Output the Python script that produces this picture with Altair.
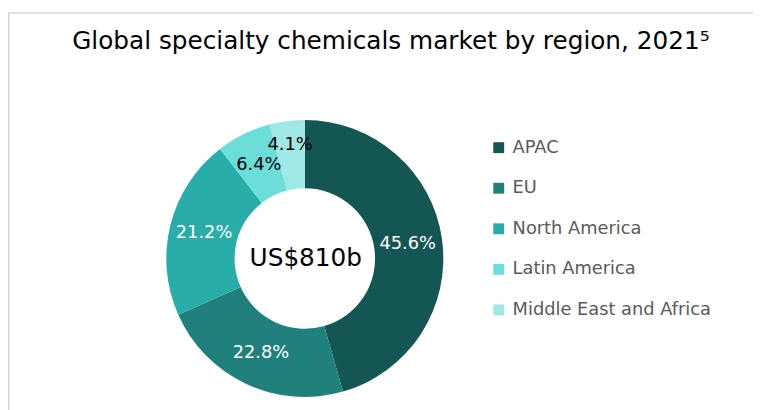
import altair as alt
import pandas as pd

regions = ["APAC", "EU", "North America", "Latin America", "Middle East and Africa"]
shares = [45.6, 22.8, 21.2, 6.4, 4.1]
colors = ["#145654", "#1f807c", "#28ada8", "#6cdeda", "#a0e8e6"]
title_text = "Global specialty chemicals market by region, 2021⁵"
center_text = "US$810b"

df = pd.DataFrame({"region": regions, "share": shares, "order": list(range(len(regions)))})
df["label"] = df["share"].map(lambda v: f"{v:.1f}%")

CX, CY = 300, 251
FONT = "DejaVu Sans"

base = alt.Chart(df).encode(
    theta=alt.Theta("share:Q", stack=True),
    order=alt.Order("order:Q"),
)

arcs = base.mark_arc(outerRadius=140, innerRadius=71, stroke=None).encode(
    x=alt.value(CX),
    y=alt.value(CY),
    color=alt.Color(
        "region:N",
        sort=regions,
        scale=alt.Scale(domain=regions, range=colors),
        legend=alt.Legend(
            title=None,
            orient="none",
            legendX=487,
            legendY=130,
            symbolType="square",
            symbolSize=121,
            symbolStrokeWidth=0,
            labelFontSize=18,
            labelFont=FONT,
            labelColor="#5a5a5a",
            labelOffset=5,
            rowPadding=23,
            labelLimit=400,
        ),
    ),
)

color_rule = alt.condition("datum.share > 10", alt.value("white"), alt.value("black"))

labels_main = base.mark_text(radius=105, fontSize=18, font=FONT, align="center", baseline="middle").transform_calculate(
    lbl="datum.share >= 5 ? datum.label : ''"
).encode(
    x=alt.value(CX),
    y=alt.value(CY),
    text="lbl:N",
    color=color_rule,
)

labels_small = base.mark_text(radius=116, fontSize=18, font=FONT, align="center", baseline="middle").transform_calculate(
    lbl="datum.share < 5 ? datum.label : ''"
).encode(
    x=alt.value(CX),
    y=alt.value(CY),
    text="lbl:N",
    color=color_rule,
)

center = alt.Chart(pd.DataFrame({"t": [center_text]})).mark_text(
    fontSize=25, font=FONT, color="black"
).encode(x=alt.value(CX + 1), y=alt.value(CY), text="t:N")

title = alt.Chart(pd.DataFrame({"t": [title_text]})).mark_text(
    fontSize=25, font="DejaVu Sans", color="black", baseline="alphabetic"
).encode(x=alt.value(387), y=alt.value(39), text="t:N")

border_top = alt.Chart(pd.DataFrame({"a": [0]})).mark_rule(color="#d4d4dc", strokeWidth=1.5).encode(
    x=alt.value(0), x2=alt.value(760), y=alt.value(3)
)
border_left = alt.Chart(pd.DataFrame({"a": [0]})).mark_rule(color="#d4d4dc", strokeWidth=1.5).encode(
    x=alt.value(0.75), y=alt.value(3), y2=alt.value(410)
)

chart = alt.layer(border_top, border_left, arcs, labels_main, labels_small, center, title).properties(
    width=753, height=402, padding=0, autosize="none"
).configure_view(stroke=None)

chart.save("out.html", embed_options={"renderer": "svg", "actions": False})
